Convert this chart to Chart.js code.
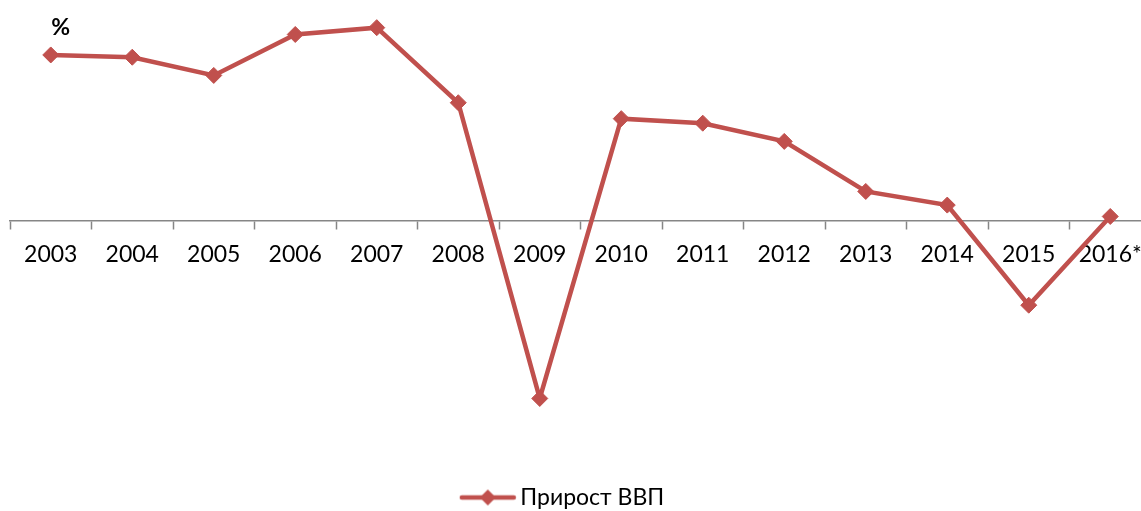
<!DOCTYPE html>
<html>
<head>
<meta charset="utf-8">
<script src="https://cdn.jsdelivr.net/npm/chart.js@4"></script>
<style>
    html, body { margin: 0; padding: 0; background: #fff; overflow: hidden; }
    #wrap { position: absolute; left: 0; top: 0; width: 1160px; height: 511px; }
</style>
</head>
<body>
<div id="wrap"><canvas id="gdpChart"></canvas></div>
<script>
const years = ["2003", "2004", "2005", "2006", "2007", "2008", "2009", "2010", "2011", "2012", "2013", "2014", "2015", "2016*"];
const gdpGrowth = [7.3, 7.2, 6.4, 8.2, 8.5, 5.2, -7.8, 4.5, 4.3, 3.5, 1.3, 0.7, -3.7, 0.2];
const seriesName = "Прирост ВВП";
const unitLabel = "%";

const red = "#C0504D";

document.addEventListener("DOMContentLoaded", function (event) {
    createGdpChart();
});

function legendIcon() {
    const c = document.createElement("canvas");
    c.width = 58;
    c.height = 18;
    const g = c.getContext("2d");
    g.strokeStyle = red;
    g.lineWidth = 4.5;
    g.lineCap = "round";
    g.beginPath();
    g.moveTo(3, 9);
    g.lineTo(55, 9);
    g.stroke();
    g.fillStyle = red;
    g.beginPath();
    g.moveTo(29 - 8, 9);
    g.lineTo(29, 1);
    g.lineTo(29 + 8, 9);
    g.lineTo(29, 17);
    g.closePath();
    g.fill();
    return c;
}

// the "%" mark in the top left corner
const unitPlugin = {
    id: "unitPlugin",
    afterDraw(chart) {
        const ctx = chart.ctx;
        const x = chart.scales.x.getPixelForValue(0) + 10;
        ctx.save();
        ctx.font = "bold 23px Lato";
        ctx.fillStyle = "#000";
        ctx.textAlign = "center";
        ctx.textBaseline = "middle";
        ctx.fillText(unitLabel, x, chart.chartArea.top + 19);
        ctx.restore();
    },
};

// legend sits a bit left of the canvas centre in the original
const legendShift = {
    id: "legendShift",
    afterLayout(chart) {
        chart.legend.left -= 15;
        chart.legend.right -= 15;
    },
};

function createGdpChart() {
    const ctx = document.getElementById("gdpChart");
    const config = {
        type: "line",
        data: {
            labels: years,
            datasets: [
                {
                    label: seriesName,
                    data: gdpGrowth,
                    borderColor: red,
                    backgroundColor: red,
                    borderWidth: 4.5,
                    pointStyle: "rectRot",
                    pointRadius: 8,
                    pointHoverRadius: 8,
                    pointBorderWidth: 1,
                    tension: 0,
                },
            ],
        },
        options: {
            responsive: true,
            maintainAspectRatio: false,
            animation: false,
            layout: {
                padding: { left: 10, right: 9, top: 4, bottom: -8 },
            },
            scales: {
                x: {
                    position: { y: 0 },
                    offset: true,
                    grid: {
                        display: true,
                        offset: true,
                        drawOnChartArea: false,
                        tickLength: 8,
                        tickColor: "#868686",
                        tickWidth: 1.5,
                    },
                    border: { color: "#868686", width: 1.5 },
                    ticks: {
                        color: "#000",
                        font: { family: "Lato", size: 23 },
                        padding: 12,
                        maxRotation: 0,
                        autoSkip: false,
                    },
                },
                y: {
                    display: false,
                    min: -11.56,
                    max: 9.32,
                },
            },
            plugins: {
                legend: {
                    position: "bottom",
                    labels: {
                        usePointStyle: true,
                        pointStyle: legendIcon(),
                        pointStyleWidth: 42,
                        padding: 2,
                        color: "#000",
                        font: { family: "Lato", size: 23 },
                    },
                },
                tooltip: { enabled: false },
            },
        },
        plugins: [unitPlugin, legendShift],
    };
    new Chart(ctx, config);
}
</script>
</body>
</html>
